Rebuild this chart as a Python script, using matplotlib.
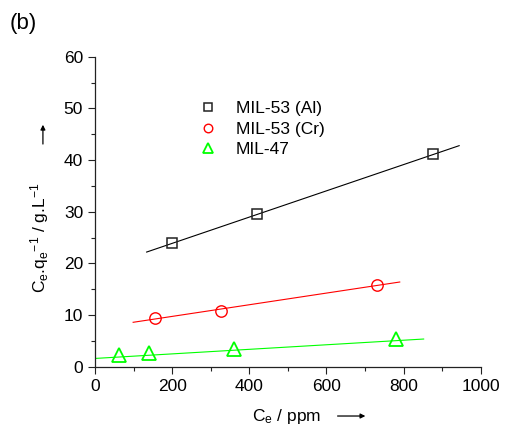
import matplotlib
matplotlib.use("Agg")
import matplotlib.pyplot as plt
from matplotlib.ticker import MultipleLocator

plt.rcParams['font.family'] = ['Liberation Sans', 'DejaVu Sans']
plt.rcParams['mathtext.fontset'] = 'custom'
plt.rcParams['mathtext.rm'] = 'Liberation Sans'
plt.rcParams['mathtext.it'] = 'Liberation Sans'

# measured points
al_x = [201, 419, 875]
al_y = [23.9, 29.6, 41.1]
cr_x = [156, 326, 732]
cr_y = [9.5, 10.85, 15.9]
m47_x = [63, 140, 360, 780]
m47_y = [2.3, 2.6, 3.5, 5.4]

# fitted lines (end points)
al_fit_x = [134, 944]
al_fit_y = [22.2, 42.8]
cr_fit_x = [99, 790]
cr_fit_y = [8.6, 16.4]
m47_fit_x = [0, 852]
m47_fit_y = [1.6, 5.36]

labels = ['MIL-53 (Al)', 'MIL-53 (Cr)', 'MIL-47']

fig = plt.figure(figsize=(5.05, 4.28), dpi=100)
ax = fig.add_axes([0.188, 0.1432, 0.764, 0.724])

ax.plot(al_fit_x, al_fit_y, color='black', lw=0.8)
ax.plot(cr_fit_x, cr_fit_y, color='#ff0000', lw=0.8)
ax.plot(m47_fit_x, m47_fit_y, color='#00ff00', lw=0.8)

ax.plot(al_x, al_y, ls='none', marker='s', ms=7.9, mfc='none', mec='#222222', mew=1.1, label=labels[0])
ax.plot(cr_x, cr_y, ls='none', marker='o', ms=8.2, mfc='none', mec='#ff0000', mew=1.0, label=labels[1])
ax.plot(m47_x, m47_y, ls='none', marker='^', ms=9.5, mfc='none', mec='#00ff00', mew=1.3, label=labels[2])

ax.set_xlim(0, 1000)
ax.set_ylim(0, 60)
ax.xaxis.set_major_locator(MultipleLocator(200))
ax.xaxis.set_minor_locator(MultipleLocator(100))
ax.yaxis.set_major_locator(MultipleLocator(10))
ax.yaxis.set_minor_locator(MultipleLocator(5))
ax.tick_params(which='major', length=5, width=0.8, labelsize=12.5, direction='out', color='#222222')
ax.tick_params(which='minor', length=3, width=0.8, direction='out', color='#222222')
for s in ['top', 'right']:
    ax.spines[s].set_visible(False)
for s in ['left', 'bottom']:
    ax.spines[s].set_linewidth(0.9)
    ax.spines[s].set_color('#222222')

ax.legend(loc='upper left', bbox_to_anchor=(0.27, 0.858), frameon=False,
          fontsize=12.5, markerscale=0.75, handlelength=1.0, handletextpad=1.1,
          labelspacing=0.32, borderpad=0, borderaxespad=0)

fig.text(0.568, 0.028, r'C$_\mathregular{e}$ / ppm', ha='center', va='center', fontsize=12.5)
fig.text(0.079, 0.444, r'C$_\mathregular{e}$.q$_\mathregular{e}$$^{\mathregular{ -1}}$ / g.L$^\mathregular{-1}$',
         ha='center', va='center', rotation=90, fontsize=12.5)
fig.text(0.02, 0.945, '(b)', fontsize=16, ha='left', va='center')

fig.add_artist(matplotlib.patches.FancyArrowPatch((0.663, 0.028), (0.729, 0.028),
               transform=fig.transFigure, arrowstyle='-|>', mutation_scale=7, color='black', lw=0.9))
fig.add_artist(matplotlib.patches.FancyArrowPatch((0.085, 0.657), (0.085, 0.715),
               transform=fig.transFigure, arrowstyle='-|>', mutation_scale=7, color='black', lw=0.9))

fig.savefig('out.png', dpi=100)
